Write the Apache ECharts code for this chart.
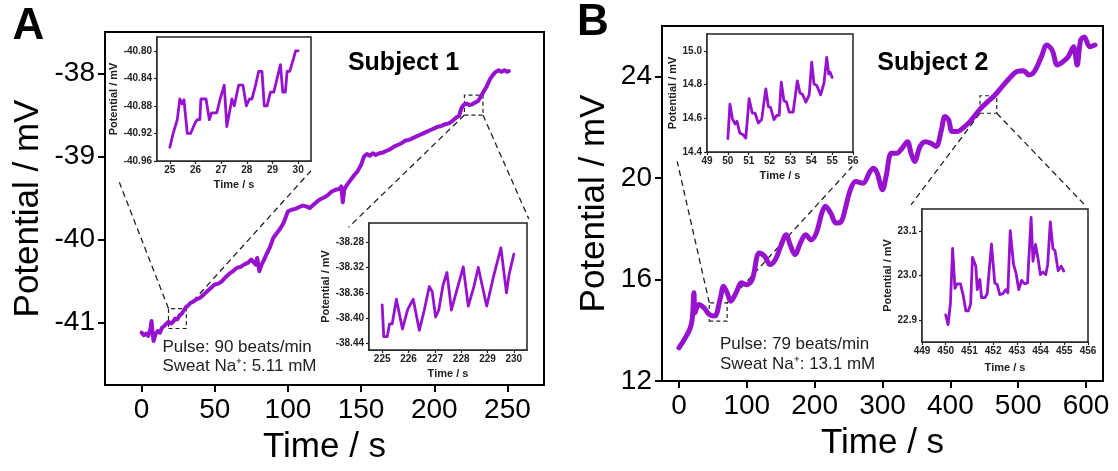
<!DOCTYPE html>
<html>
<head>
<meta charset="utf-8">
<script src="https://cdn.jsdelivr.net/npm/echarts@6/dist/echarts.min.js"></script>
<style>
html,body{margin:0;padding:0;background:#fff;}
#c{width:1118px;height:471px;}
</style>
</head>
<body>
<div id="c"></div>
<script>
// ---------- Panel A (Subject 1) main trace ----------
const timeA = [0,1.5,3,4.5,6,6.8,7.5,8.2,9.5,11,12.5,14,15.5,17,18.5,20,21.5,23,24.5,26,27.5,29,30.5,32,33.5,35,37.5,40,42.5,45,47.5,50,52.5,55,57.5,60,62.5,65,67.5,70,72.5,75,76.5,78,79,80.5,82,83.5,85,87.5,90,92.5,95,97,98.5,100,102.5,105,107.5,110,112.5,115,117.5,120,122.5,125,127.5,130,132.5,135,136.5,137.5,138.5,140,142.5,145,147.5,150,152,154,156,158,160,162.5,165,167.5,170,172.5,175,177.5,180,182.5,185,187.5,190,192.5,195,197.5,200,202.5,205,207.5,210,212.5,215,217,218.5,220,222,224,226,228,230,232,234,236,238,240,242,244,246,248,250,251];
const potA = [-41.12,-41.15,-41.13,-41.16,-41.08,-40.98,-41.12,-41.22,-41.14,-41.10,-41.12,-41.06,-41.04,-41.01,-40.99,-41.01,-40.99,-40.95,-40.96,-40.91,-40.89,-40.85,-40.81,-40.79,-40.76,-40.75,-40.72,-40.70,-40.66,-40.62,-40.58,-40.54,-40.53,-40.50,-40.45,-40.41,-40.38,-40.34,-40.33,-40.30,-40.28,-40.24,-40.27,-40.30,-40.22,-40.38,-40.30,-40.25,-40.19,-40.10,-39.98,-39.92,-39.86,-39.80,-39.73,-39.66,-39.64,-39.63,-39.61,-39.59,-39.60,-39.62,-39.58,-39.54,-39.51,-39.49,-39.46,-39.42,-39.40,-39.39,-39.36,-39.55,-39.40,-39.35,-39.29,-39.23,-39.18,-39.10,-39.00,-38.97,-38.99,-38.96,-38.98,-38.96,-38.95,-38.93,-38.91,-38.88,-38.86,-38.84,-38.81,-38.80,-38.78,-38.76,-38.74,-38.72,-38.70,-38.68,-38.66,-38.64,-38.63,-38.61,-38.60,-38.57,-38.53,-38.51,-38.42,-38.38,-38.36,-38.38,-38.37,-38.35,-38.33,-38.27,-38.21,-38.15,-38.07,-38.02,-37.98,-37.96,-37.98,-37.96,-37.98,-37.97];

// Panel A insets
const timeA1 = [25,25.13,25.29,25.39,25.48,25.55,25.6,25.68,25.81,25.98,26.07,26.17,26.21,26.41,26.54,26.63,26.83,26.96,27.12,27.22,27.42,27.51,27.68,27.85,27.98,28.1,28.2,28.34,28.46,28.59,28.68,28.79,28.92,29.05,29.18,29.31,29.4,29.5,29.57,29.67,29.83,29.9,30];
const potA1 = [-40.94,-40.92,-40.90,-40.87,-40.877,-40.871,-40.87,-40.92,-40.92,-40.905,-40.90,-40.90,-40.87,-40.87,-40.90,-40.89,-40.89,-40.87,-40.85,-40.91,-40.87,-40.88,-40.85,-40.85,-40.88,-40.87,-40.87,-40.85,-40.83,-40.83,-40.88,-40.88,-40.86,-40.86,-40.84,-40.82,-40.86,-40.86,-40.83,-40.83,-40.81,-40.80,-40.80];
const timeA2 = [225,225.06,225.19,225.28,225.38,225.54,225.77,225.97,226.18,226.41,226.6,226.79,226.9,227.03,227.15,227.31,227.46,227.63,227.82,228.08,228.27,228.49,228.65,228.97,229.23,229.51,229.72,229.82,230];
const potA2 = [-38.379,-38.429,-38.429,-38.409,-38.409,-38.37,-38.417,-38.386,-38.37,-38.419,-38.387,-38.35,-38.358,-38.398,-38.387,-38.348,-38.328,-38.387,-38.358,-38.319,-38.381,-38.349,-38.32,-38.381,-38.334,-38.289,-38.36,-38.331,-38.299];

// ---------- Panel B (Subject 2) main trace ----------
const timeB = [0,7.9,15.8,19.5,22.1,23.7,28.9,36.8,44.7,52.6,60.5,65.8,71,76.3,84.2,92.1,100,107.9,118.4,126.3,134.2,142.1,150,157.9,164.7,171,178.9,186.8,194.7,202.6,210.5,215.8,223.7,231.6,239.5,244.7,252.6,260.5,271,281.6,286.8,292.1,300,305.3,313.2,321,328.9,336.8,342.1,347.4,355.3,363.2,371,378.9,386.8,392.1,397.4,402.6,410.5,418.4,428.9,436.8,444.7,455.3,465.8,476.3,486.8,497.4,507.9,515.8,523.7,534.2,542.1,550,557.9,565.8,573.7,581.6,586.8,592.1,597.4,605.3,613.2];
const potB = [13.31,13.64,14.03,14.43,15.48,14.69,15.02,14.89,14.62,14.56,15.21,15.74,15.48,15.15,15.48,15.87,15.8,16.0,17.05,16.92,16.59,16.79,17.31,17.77,17.31,16.98,17.44,17.77,17.57,17.84,18.62,18.89,18.62,18.23,18.30,18.75,19.54,19.87,19.80,20.26,20.39,20.20,19.54,20.07,20.98,20.98,21.18,21.44,20.98,20.66,21.25,21.44,21.38,21.25,21.90,22.43,22.30,21.84,21.84,21.97,22.23,22.49,22.75,23.02,23.28,23.61,23.93,24.20,24.24,24.07,24.20,24.79,25.25,25.05,24.46,24.59,24.79,25.18,24.46,25.44,25.57,25.18,25.25];

// Panel B insets
const timeB1 = [50,50.1,50.22,50.35,50.44,50.57,50.73,50.86,51.02,51.17,51.3,51.46,51.62,51.82,51.94,52.05,52.21,52.34,52.46,52.56,52.69,52.81,52.94,53.13,53.33,53.46,53.58,53.74,53.9,54.02,54.13,54.26,54.45,54.61,54.74,54.84,54.9,55];
const potB1 = [14.479,14.684,14.597,14.566,14.582,14.513,14.503,14.483,14.716,14.631,14.631,14.572,14.592,14.775,14.67,14.664,14.592,14.617,14.617,14.815,14.704,14.696,14.637,14.637,14.822,14.749,14.743,14.696,14.739,14.933,14.803,14.795,14.739,14.809,14.961,14.862,14.874,14.842];
const timeB2 = [450,450.1,450.2,450.29,450.39,450.48,450.62,450.73,450.85,450.95,451.05,451.13,451.27,451.33,451.44,451.51,451.65,451.75,451.83,451.93,452.07,452.17,452.28,452.41,452.53,452.62,452.72,452.86,452.97,453.08,453.2,453.33,453.45,453.6,453.68,453.79,453.91,453.99,454.1,454.22,454.3,454.41,454.52,454.61,454.74,454.87,454.98];
const potB2 = [22.911,22.889,22.938,23.061,22.971,22.981,22.981,22.957,22.92,22.92,22.935,23.041,23.021,22.968,22.991,22.95,22.95,22.959,22.957,23.071,22.983,22.98,22.957,22.959,22.968,22.961,23.101,23.025,23.004,22.968,22.989,22.981,22.983,23.131,23.032,23.07,23.032,23.002,23.008,23.002,23.025,23.121,23.061,23.056,23.011,23.021,23.01];

// ---------- tick labels ----------
const ticksAX = [0,50,100,150,200,250];
const ticksAY = [-41,-40,-39,-38];
const ticksBX = [0,100,200,300,400,500,600];
const ticksBY = [12,16,20,24];
const ticksA1X = [25,26,27,28,29,30];
const ticksA1Y = [-40.96,-40.92,-40.88,-40.84,-40.80];
const ticksA2X = [225,226,227,228,229,230];
const ticksA2Y = [-38.44,-38.40,-38.36,-38.32,-38.28];
const ticksB1X = [49,50,51,52,53,54,55,56];
const ticksB1Y = [14.4,14.6,14.8,15.0];
const ticksB2X = [449,450,451,452,453,454,455,456];
const ticksB2Y = [22.9,23.0,23.1];

// ---------- zoom boxes and connector lines (data units of main axes) ----------
const zoomBoxesA = [[[18.4,-41.07],[30.6,-40.83]], [[220.6,-38.50],[233.3,-38.26]]];
const connectorsA = [[[18.4,-40.83],[-15.2,-39.31]], [[30.6,-40.83],[115.8,-39.17]], [[220.6,-38.50],[141.5,-39.85]], [[233.3,-38.50],[264.6,-39.75]]];
const zoomBoxesB = [[[44.7,14.36],[71,15.08]], [[443.7,22.56],[468.4,23.25]]];
const connectorsB = [[[44.7,15.08],[-2.6,20.66]], [[71,15.08],[255.3,20.46]], [[443.7,22.56],[342.1,18.95]], [[468.4,22.56],[600,18.89]]];

const labelsA = {subject:'Subject 1', pulse:'Pulse: 90 beats/min', sweat:'Sweat Na\u207A: 5.11 mM'};
const labelsB = {subject:'Subject 2', pulse:'Pulse: 79 beats/min', sweat:'Sweat Na\u207A: 13.1 mM'};

// ---------- build option ----------
const FONT = '"Liberation Sans", Arial, Helvetica, sans-serif';
const PURPLE = '#9612cf';
const zip = (a,b) => a.map((v,i)=>[v,b[i]]);

function mainAxis(gi, min, max, ticks, name, gap, isY){
  return {
    type:'value', gridIndex:gi, min:min, max:max,
    name:name, nameLocation:'middle', nameGap:gap,
    nameTextStyle:{fontFamily:FONT, fontSize:35, color:'#000'},
    axisLine:{show:true, onZero:false, lineStyle:{color:'#000', width:2}},
    axisTick:{show:true, inside:false, length:7, lineStyle:{color:'#000', width:2}, customValues:ticks},
    axisLabel:{show:true, customValues:ticks, fontFamily:FONT, fontSize:28, color:'#000', margin: isY?10:11},
    splitLine:{show:false}
  };
}
function insetAxis(gi, min, max, ticks, name, gap, dec, isY){
  return {
    type:'value', gridIndex:gi, min:min, max:max,
    name:name, nameLocation:'middle', nameGap:gap,
    nameTextStyle:{fontFamily:FONT, fontSize:11, fontWeight:'bold', color:'#222'},
    axisLine:{show:true, onZero:false, lineStyle:{color:'#222', width:1.5}},
    axisTick:{show:true, inside:false, length:3, lineStyle:{color:'#222', width:1.2}, customValues:ticks},
    axisLabel:{show:true, customValues:ticks, fontFamily:FONT, fontSize:10, fontWeight:'bold', color:'#222', margin: isY?5:4,
      formatter:(v)=>Number(v).toFixed(dec)},
    splitLine:{show:false}
  };
}

const grids = [
  {left:105, top:32, width:439, height:353, show:true, borderColor:'#000', borderWidth:2, backgroundColor:'#fff', containLabel:false, outerBoundsMode:'none'},
  {left:662, top:26, width:441, height:355, show:true, borderColor:'#000', borderWidth:2, backgroundColor:'#fff', containLabel:false, outerBoundsMode:'none'},
  {left:157, top:37, width:154, height:124, show:true, borderColor:'#222', borderWidth:1.5, backgroundColor:'#fff', containLabel:false, outerBoundsMode:'none', z:3},
  {left:369, top:223, width:158, height:127, show:true, borderColor:'#222', borderWidth:1.5, backgroundColor:'#fff', containLabel:false, outerBoundsMode:'none', z:3},
  {left:707, top:34, width:146, height:118, show:true, borderColor:'#222', borderWidth:1.5, backgroundColor:'#fff', containLabel:false, outerBoundsMode:'none', z:3},
  {left:922, top:209, width:166, height:133, show:true, borderColor:'#222', borderWidth:1.5, backgroundColor:'#fff', containLabel:false, outerBoundsMode:'none', z:3}
];

const xAxes = [
  mainAxis(0, -25, 275, ticksAX, 'Time / s', 45, false),
  mainAxis(1, -25, 625, ticksBX, 'Time / s', 45, false),
  insetAxis(2, 24.5, 30.5, ticksA1X, 'Time / s', 18, 0, false),
  insetAxis(3, 224.5, 230.5, ticksA2X, 'Time / s', 18, 0, false),
  insetAxis(4, 49, 56, ticksB1X, 'Time / s', 18, 0, false),
  insetAxis(5, 449, 456, ticksB2X, 'Time / s', 20, 0, false)
];
const yAxes = [
  mainAxis(0, -41.75, -37.5, ticksAY, 'Potential / mV', 59, true),
  mainAxis(1, 12, 26, ticksBY, 'Potential / mV', 50, true),
  insetAxis(2, -40.96, -40.78, ticksA1Y, 'Potential / mV', 36, 2, true),
  insetAxis(3, -38.45, -38.25, ticksA2Y, 'Potential / mV', 37, 2, true),
  insetAxis(4, 14.4, 15.1, ticksB1Y, 'Potential / mV', 26, 1, true),
  insetAxis(5, 22.85, 23.15, ticksB2Y, 'Potential / mV', 29, 1, true)
];

const dashStyle = {color:'#222', width:1.3, type:[6,4]};
function connectorSeries(gi, segs){
  return segs.map(s => ({
    type:'line', xAxisIndex:gi, yAxisIndex:gi, data:s, symbol:'none', silent:true,
    lineStyle:dashStyle, z:1, animation:false
  }));
}
function boxArea(boxes){
  return {silent:true, itemStyle:{color:'rgba(0,0,0,0)', borderColor:'#222', borderWidth:1.2, borderType:[4,3]},
    data: boxes.map(b => [{coord:b[0]},{coord:b[1]}])};
}
function traceSeries(gi, data, w, smooth, extra){
  return Object.assign({type:'line', xAxisIndex:gi, yAxisIndex:gi, data:data, symbol:'none', smooth:smooth,
    lineStyle:{color:PURPLE, width:w, join:'round', cap:'round'}, itemStyle:{color:PURPLE}, animation:false, z:2}, extra||{});
}

const series = [
  traceSeries(0, zip(timeA, potA), 4, false, {markArea: boxArea(zoomBoxesA)}),
  traceSeries(1, zip(timeB, potB), 5, 0.35, {markArea: boxArea(zoomBoxesB)}),
  ...connectorSeries(0, connectorsA),
  ...connectorSeries(1, connectorsB),
  traceSeries(2, zip(timeA1, potA1), 2.8, false, {z:5}),
  traceSeries(3, zip(timeA2, potA2), 2.8, false, {z:5}),
  traceSeries(4, zip(timeB1, potB1), 2.8, false, {z:5}),
  traceSeries(5, zip(timeB2, potB2), 2.8, false, {z:5})
];

function txt(x, y, text, font, align, fill){
  return {type:'text', x:x, y:y, z:20, silent:true,
    style:{text:text, font:font, fill:fill||'#000', align:align||'left', verticalAlign:'middle'}};
}
const graphics = [
  txt(28.5, 27, 'A', 'bold 44px ' + FONT, 'center'),
  txt(593, 23, 'B', 'bold 44px ' + FONT, 'center'),
  txt(403.5, 63, labelsA.subject, 'bold 25px ' + FONT, 'center'),
  txt(932.8, 63, labelsB.subject, 'bold 25px ' + FONT, 'center'),
  txt(162.5, 347, labelsA.pulse, '17px ' + FONT, 'left', '#222'),
  txt(162.5, 366.5, labelsA.sweat, '17px ' + FONT, 'left', '#222'),
  txt(720, 344.5, labelsB.pulse, '17px ' + FONT, 'left', '#222'),
  txt(720, 364, labelsB.sweat, '17px ' + FONT, 'left', '#222')
];

const chart = echarts.init(document.getElementById('c'), null, {renderer:'canvas'});
chart.setOption({
  animation:false,
  backgroundColor:'#fff',
  grid:grids, xAxis:xAxes, yAxis:yAxes, series:series, graphic:graphics
});
</script>
</body>
</html>
